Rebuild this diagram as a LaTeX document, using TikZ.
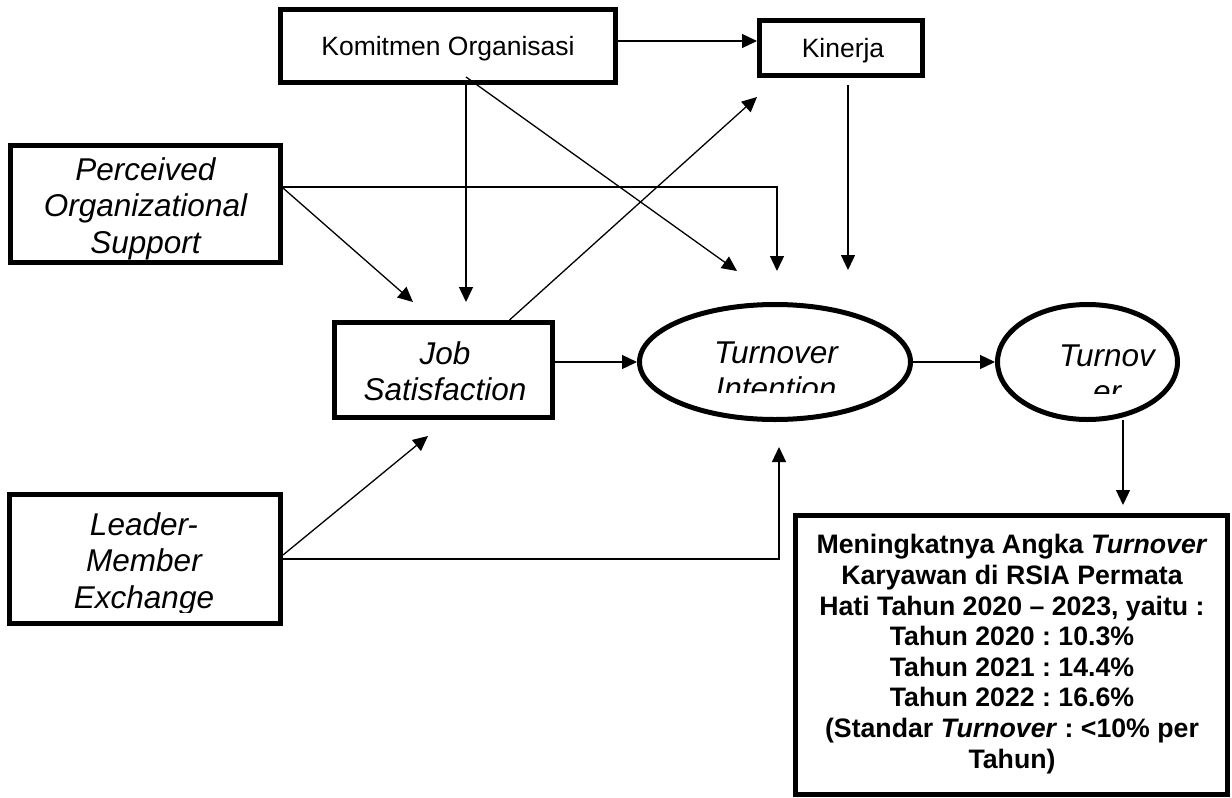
\documentclass[tikz,border=0pt]{standalone}
\usepackage{fontspec}
\setmainfont{Liberation Sans}
\frenchspacing
\usetikzlibrary{shapes.geometric,arrows.meta}
\tikzset{
  boxnode/.style={draw, line width=5pt, fill=white, rectangle, inner sep=0pt},
  ellnode/.style={draw, line width=5pt, fill=white, ellipse, inner sep=0pt},
  arr/.style={line width=1.3pt, -{Triangle[length=15pt,width=14pt]}},
  itxt/.style={font=\fontsize{31.5}{36.5}\selectfont\itshape, align=center, inner sep=0pt, anchor=base},
  rtxt/.style={font=\fontsize{26.5}{30}\selectfont, align=center, inner sep=0pt, anchor=base},
  btxt/.style={font=\fontsize{26.7}{30.6}\selectfont\bfseries, align=center, inner sep=0pt, anchor=base},
}
\begin{document}
\begin{tikzpicture}[x=1pt,y=-1pt]
\useasboundingbox (0,0) rectangle (1232,798);
% shapes
\node[boxnode, minimum width=335pt, minimum height=73pt] (ko) at (448,46) {};
\node[boxnode, minimum width=163pt, minimum height=55pt] (ki) at (841,48) {};
\node[boxnode, minimum width=270pt, minimum height=117pt] (pos) at (145.5,204) {};
\node[boxnode, minimum width=218pt, minimum height=95pt] (js) at (443.5,370) {};
\node[boxnode, minimum width=271pt, minimum height=129pt] (lmx) at (145,559) {};
\node[boxnode, minimum width=432pt, minimum height=279pt] (bx) at (1011.5,655) {};
\node[ellnode, minimum width=271pt, minimum height=115pt] (ti) at (775,362) {};
\node[ellnode, minimum width=180pt, minimum height=115pt] (to) at (1087.5,362) {};
% texts (anchor base = baseline of the last line)
\node[rtxt] (koT) at (448,55) {Komitmen Organisasi};
\node[rtxt] (kiT) at (843,57) {Kinerja};
\node[itxt] (posT) at (145.5,253) {Perceived\\Organizational\\Support};
\node[itxt] (jsT) at (445,400.5) {Job\\Satisfaction};
\begin{scope}
  \clip (600,300) rectangle (950,392);
  \node[itxt] (tiT) at (776,399.5) {Turnover\\Intention};
\end{scope}
\begin{scope}
  \clip (1000,300) rectangle (1220,393);
  \node[itxt] (toT) at (1107,402.5) {Turnov\\er};
\end{scope}
\begin{scope}
  \clip (0,495) rectangle (290,612);
  \node[itxt] (lmxT) at (144,608) {Leader-\\Member\\Exchange};
\end{scope}
\node[btxt] (bxT) at (1012,768) {Meningkatnya Angka \textit{Turnover}\\Karyawan di RSIA Permata\\Hati Tahun 2020 – 2023, yaitu :\\Tahun 2020 : 10.3\%\\Tahun 2021 : 14.4\%\\Tahun 2022 : 16.6\%\\(Standar \textit{Turnover} : <10\% per\\Tahun)};
% free ends
\coordinate (t1) at (737,271);
\coordinate (t2) at (777,271);
\coordinate (t3) at (848,270);
\coordinate (t4) at (779,447);
\coordinate (jsA) at (413,302);
\coordinate (jsB) at (466,302);
\coordinate (jsC) at (428,436);
\coordinate (kiA) at (757,97);
\coordinate (toOut) at (1123,420);
\coordinate (bxIn) at (1123,505);
% connectors
\draw[arr] ([yshift=5pt]ko.east) -- ([yshift=5pt]ko.east -| ki.west);
\draw[arr] (ko.south -| jsB) -- (jsB);
\draw[arr] ([yshift=8pt]ko.south -| jsB) -- (t1);
\draw[arr] ([yshift=-7pt]ki.south -| t3) -- (t3);
\draw[arr] ([yshift=17pt]pos.east) -| (t2);
\draw[arr] ([yshift=16pt]pos.east) -- (jsA);
\draw[arr] ([xshift=66pt]js.north) -- (kiA);
\draw[arr] (js.east |- ti.west) -- (ti.west);
\draw[arr] (ti.east) -- (to.west);
\draw[arr] (toOut) -- (bxIn);
\draw[arr] ([yshift=4pt]lmx.east) -- (jsC);
\draw[arr] (lmx.east) -| (t4);
\end{tikzpicture}
\end{document}
